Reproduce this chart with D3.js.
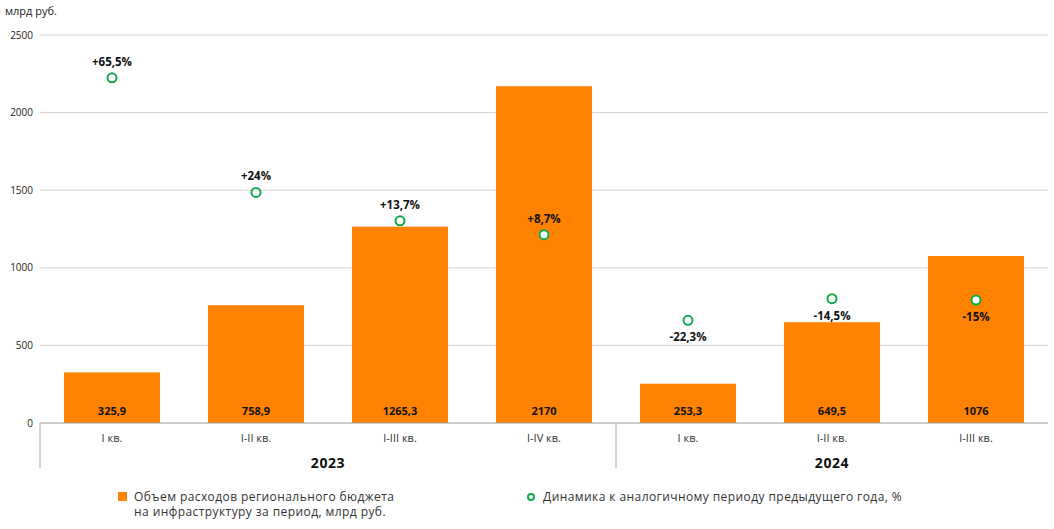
<!DOCTYPE html>
<html><head><meta charset="utf-8">
<script src="https://cdn.jsdelivr.net/npm/d3@7"></script>
<style>body{margin:0;background:#fff;font-family:"Open Sans",sans-serif;}</style>
</head><body><svg id="c" width="1054" height="529"></svg>
<script>
const categories = ["I кв.","I-II кв.","I-III кв.","I-IV кв.","I кв.","I-II кв.","I-III кв."];
const years = ["2023","2023","2023","2023","2024","2024","2024"];
const spending = [325.9, 758.9, 1265.3, 2170, 253.3, 649.5, 1076];
const spendingLabels = ["325,9","758,9","1265,3","2170","253,3","649,5","1076"];
const growth = [65.5, 24, 13.7, 8.7, -22.3, -14.5, -15];
const growthLabels = ["+65,5%","+24%","+13,7%","+8,7%","-22,3%","-14,5%","-15%"];
const yTicks = [0, 500, 1000, 1500, 2000, 2500];
const legendLabels = ["Объем расходов регионального бюджета","на инфраструктуру за период, млрд руб.","Динамика к аналогичному периоду предыдущего года, %"];

const svg = d3.select("#c");
const L = 40, R = 1048, T = 35, B = 423;
const x = d3.scaleBand().domain(d3.range(categories.length)).range([L, R]).paddingInner(1/3).paddingOuter(1/6);
const y = d3.scaleLinear().domain([0, 2500]).range([B, T]);
const y2 = d3.scaleLinear().domain([-59.5, 81]).range([B, T]);
const orange = "#ff8300", green = "#13a84a";

svg.append("text").attr("x", 5).attr("y", 15).attr("font-size", 11).attr("fill", "#222").text("млрд руб.");

const grid = svg.append("g");
yTicks.forEach(t => {
  if (t > 0) grid.append("line").attr("x1", L).attr("x2", R).attr("y1", y(t)).attr("y2", y(t)).attr("stroke", "#d0d0d0");
  grid.append("text").attr("x", 33).attr("y", y(t) + 3.5).attr("text-anchor", "end").attr("font-size", 10).attr("fill", "#222").text(t);
});

svg.append("g").selectAll("rect").data(spending).join("rect")
  .attr("x", (d, i) => x(i)).attr("width", x.bandwidth())
  .attr("y", d => y(d)).attr("height", d => B - y(d)).attr("fill", orange);

svg.append("g").selectAll("text").data(spendingLabels).join("text")
  .attr("x", (d, i) => x(i) + x.bandwidth() / 2).attr("y", 415)
  .attr("text-anchor", "middle").attr("font-size", 11).attr("font-weight", "bold").attr("fill", "#111").text(d => d);

// axis
svg.append("line").attr("x1", L).attr("x2", R).attr("y1", B).attr("y2", B).attr("stroke", "#999");
[L, x(4) - x.step() * x.paddingInner() / 2].forEach(xx => {
  svg.append("line").attr("x1", xx).attr("x2", xx).attr("y1", B).attr("y2", 468).attr("stroke", "#aaa");
});
svg.append("g").selectAll("text").data(categories).join("text")
  .attr("x", (d, i) => x(i) + x.bandwidth() / 2).attr("y", 442)
  .attr("text-anchor", "middle").attr("font-size", 11).attr("fill", "#333").text(d => d);

const yearGroups = d3.groups(d3.range(categories.length), i => years[i]);
yearGroups.forEach(([yr, idx]) => {
  const x0 = x(idx[0]) - x.step() * x.paddingInner() / 2;
  const x1 = x(idx[idx.length - 1]) + x.bandwidth() + x.step() * x.paddingInner() / 2;
  svg.append("text").attr("x", (x0 + x1) / 2).attr("y", 468).attr("text-anchor", "middle")
    .attr("font-size", 14).attr("letter-spacing", 0.6).attr("font-weight", "bold").attr("fill", "#111").text(yr);
});

// growth dots
svg.append("g").selectAll("circle").data(growth).join("circle")
  .attr("cx", (d, i) => x(i) + x.bandwidth() / 2).attr("cy", d => y2(d)).attr("r", 4.5)
  .attr("fill", "#fff").attr("stroke", green).attr("stroke-width", 2);
svg.append("g").selectAll("text").data(growth).join("text")
  .attr("x", (d, i) => x(i) + x.bandwidth() / 2).attr("y", d => d >= 0 ? y2(d) - 12 : y2(d) + 21)
  .attr("text-anchor", "middle").attr("font-size", 11.5).attr("font-weight", "bold").attr("fill", "#111")
  .text((d, i) => growthLabels[i]);

// legend
svg.append("rect").attr("x", 118).attr("y", 492).attr("width", 9).attr("height", 9).attr("fill", orange);
svg.append("text").attr("x", 134).attr("y", 501).attr("font-size", 12).attr("letter-spacing", 0.42).attr("fill", "#333").text(legendLabels[0]);
svg.append("text").attr("x", 134).attr("y", 516).attr("font-size", 12).attr("letter-spacing", 0.42).attr("fill", "#333").text(legendLabels[1]);
svg.append("circle").attr("cx", 531).attr("cy", 497).attr("r", 3).attr("fill", "#fff").attr("stroke", green).attr("stroke-width", 2);
svg.append("text").attr("x", 543).attr("y", 501).attr("font-size", 12).attr("letter-spacing", 0.42).attr("fill", "#333").text(legendLabels[2]);
</script></body></html>
